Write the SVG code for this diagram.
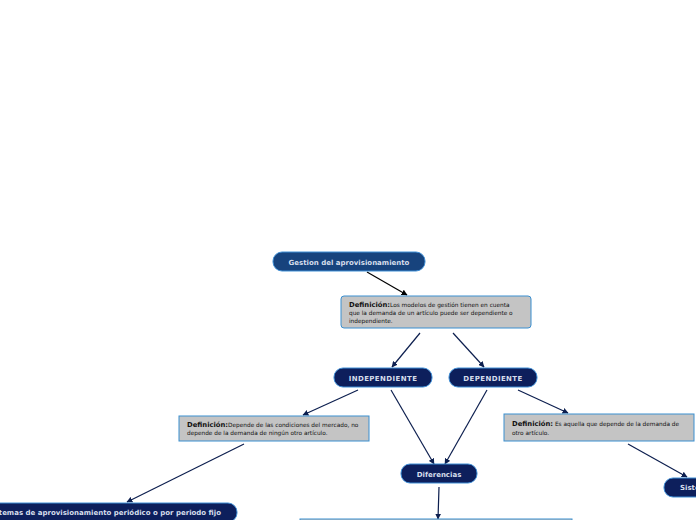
<svg xmlns="http://www.w3.org/2000/svg" width="696" height="520" viewBox="0 0 696 520">
<style>
.node rect{fill:#0d1f5c;stroke:#3f8fd6;stroke-width:1}
.node text{fill:#d6deec;font-family:"DejaVu Sans",Verdana,sans-serif;font-weight:bold;font-size:7px;text-anchor:middle}
.def rect{fill:#c4c4c4;stroke:#3a8fd0;stroke-width:1}
.def text{fill:#111;font-family:"DejaVu Sans",Verdana,sans-serif;font-size:5.8px}
.def .b{font-weight:bold;font-size:6.8px}
.conn line{stroke:#0d1f4f;stroke-width:1.2;marker-end:url(#ah)}
</style>
<defs>
<marker id="ah" viewBox="0 0 10 10" refX="9" refY="5" markerWidth="6" markerHeight="6" orient="auto" markerUnits="userSpaceOnUse">
<path d="M0,0 L10,5 L0,10 z" fill="#0d1f4f"/>
</marker>
<marker id="ahk" viewBox="0 0 10 10" refX="9" refY="5" markerWidth="6" markerHeight="6" orient="auto" markerUnits="userSpaceOnUse">
<path d="M0,0 L10,5 L0,10 z" fill="#000"/>
</marker>
</defs>
<rect width="696" height="520" fill="#fff"/>
<g class="conn" id="connectors">
<line x1="367" y1="272" x2="407" y2="295" style="stroke:#000;marker-end:url(#ahk)"/>
<line x1="420" y1="333" x2="392" y2="367"/>
<line x1="453" y1="333" x2="484" y2="367"/>
<line x1="358" y1="390" x2="303" y2="415"/>
<line x1="391" y1="390" x2="434" y2="464"/>
<line x1="487" y1="390" x2="445" y2="464"/>
<line x1="518" y1="390" x2="568" y2="413"/>
<line x1="439" y1="487" x2="438" y2="519"/>
<line x1="244" y1="444" x2="127" y2="502"/>
<line x1="628" y1="444" x2="687" y2="477"/>
</g>
<g class="node" id="root">
<rect x="273" y="252" width="152" height="19" rx="9" style="fill:#17437d"/>
<text x="349" y="264.5">Gestion del aprovisionamiento</text>
</g>
<g class="def" id="def-root">
<rect x="341" y="296" width="190" height="32" rx="3"/>
<text x="349" y="306.5"><tspan class="b">Definición:</tspan>Los modelos de gestión  tienen en cuenta</text>
<text x="349" y="314.5">que la demanda de un artículo puede ser dependiente o</text>
<text x="349" y="322.5">independiente.</text>
</g>
<g class="node" id="independiente">
<rect x="334" y="368" width="98" height="19" rx="9"/>
<text x="383" y="380.5" style="letter-spacing:0.4px">INDEPENDIENTE</text>
</g>
<g class="node" id="dependiente">
<rect x="449" y="368" width="88" height="19" rx="9"/>
<text x="493" y="380.5" style="letter-spacing:0.4px">DEPENDIENTE</text>
</g>
<g class="def" id="def-indep">
<rect x="179" y="416" width="190" height="25"/>
<text x="187" y="426.5"><tspan class="b">Definición:</tspan>Depende de las condiciones del mercado, no</text>
<text x="187" y="434.5">depende de la demanda de ningún otro artículo.</text>
</g>
<g class="def" id="def-dep">
<rect x="504" y="414" width="190" height="27"/>
<text x="512" y="425.5"><tspan class="b">Definición:</tspan> Es aquella que depende de la demanda de</text>
<text x="512" y="434.5">otro artículo.</text>
</g>
<g class="node" id="diferencias">
<rect x="401" y="464" width="76" height="19" rx="9"/>
<text x="439" y="476.5">Diferencias</text>
</g>
<g class="node" id="periodico">
<rect x="-40" y="503" width="277" height="19" rx="9"/>
<text x="221" y="514.5" style="text-anchor:end">Sistemas de aprovisionamiento periódico o por periodo fijo</text>
</g>
<g class="node" id="sistemas-right">
<rect x="664" y="478" width="80" height="19" rx="9"/>
<text x="680" y="490" style="text-anchor:start">Sistemas</text>
</g>
<g id="bottom-box">
<rect x="300" y="519" width="272" height="10" fill="#c4c4c4" stroke="#3a8fd0" stroke-width="1"/>
</g>
</svg>
